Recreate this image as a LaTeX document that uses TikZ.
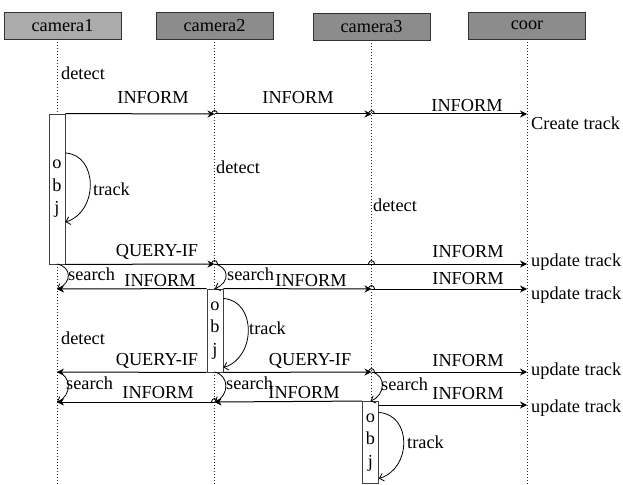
\documentclass[tikz,border=0pt]{standalone}
\usepackage{fontspec}
\setmainfont{Liberation Serif}
\usetikzlibrary{arrows.meta,calc}

\begin{document}
\begin{tikzpicture}[x=1pt, y=-1pt,
  font=\fontsize{18.3}{22.5}\selectfont,
  actor/.style={draw=black!80, line width=0.9pt, minimum width=117pt, minimum height=27pt, inner sep=0pt},
  life/.style={line width=1pt, dash pattern=on 1pt off 2pt, black!85},
  objbox/.style={draw=black!75, line width=0.9pt, fill=white, minimum width=16pt, inner sep=0pt, align=center},
  msg/.style={-{Stealth[length=7pt,width=7pt]}, line width=1pt},
  loopy/.style={-{Straight Barb[length=4pt,width=8pt]}, line width=0.8pt},
  hop/.style={line width=0.9pt},
  lbl/.style={inner sep=0pt},
  note/.style={inner sep=0pt, anchor=west},
]
\useasboundingbox (0,0) rectangle (623,484);

% ============ ACTORS ============
\node[actor, fill=black!33] (cam1) at (62.5,25.5) {camera1};
\node[actor, fill=black!45] (cam2) at (214.5,25.5) {camera2};
\node[actor, fill=black!45] (cam3) at (371.5,26.5) {camera3};
\node[actor, fill=black!45] (coor) at (527,25.5) {coor};

% lifeline tops, bottom and message rows
\coordinate (l1) at (57,39);
\coordinate (l2) at (cam2.south);
\coordinate (l3) at (cam3.south);
\coordinate (lc) at (coor.south);
\coordinate (bot) at (0,484);
\coordinate (r1) at (0,114);
\coordinate (r2) at (0,264);
\coordinate (r3) at (0,289);
\coordinate (r4) at (0,372);
\coordinate (r5) at (0,402);
\coordinate (r5b) at (0,405);

\draw[life] (l1) -- (l1 |- bot);
\draw[life] (l2) -- (l2 |- bot);
\draw[life] (l3) -- (l3 |- bot);
\draw[life] (lc) -- (lc |- bot);

% ============ ACTIVATIONS ============
\node[objbox, minimum height=150pt] (obj1) at (57,189) {o\\b\\j};
\node[objbox, minimum height=83pt] (obj2) at (215,330.5) {o\\b\\j};
\node[objbox, minimum height=82pt] (obj3) at (370.5,442.5) {o\\b\\j};

\node[note] (det1) at (61,73) {detect};
\node[note] (det2) at (216,167) {detect};
\node[note] (det3) at (373,205) {detect};
\node[note] (det4) at (61,338) {detect};

% ---- row 1: camera1 informs everybody ----
\draw[msg] (obj1.north east) -- (l2 |- r1);
\draw[msg] (l2 |- r1) -- (l3 |- r1);
\draw[msg] (l3 |- r1) -- (lc |- r1);
\node[lbl] (inf11) at (153,98) {INFORM};
\node[lbl] (inf12) at (298,98) {INFORM};
\node[lbl] (inf13) at (467,106) {INFORM};
\node[note] (create) at (531,123) {Create track};

\draw[loopy] ($(obj1.east)+(0,-36)$) .. controls +(33,2) and +(33,-10) .. ($(obj1.east)+(0,33)$);
\node[note] (trk1) at (93,189) {track};

% ---- row 2: query from camera1 ----
\draw[msg] (obj1.south east) -- (l2 |- r2);
\draw[msg] (l2 |- r2) -- (lc |- r2);
\node[lbl] (qry1) at (157,252) {QUERY-IF};
\node[lbl] (inf21) at (468,252) {INFORM};
\node[note] (upd1) at (531,262) {update track};

\draw[loopy] (l1 |- r2) .. controls +(15,3) and +(15,-6) .. (l1 |- r3);
\node[note] (srch1) at (68,274) {search};
\draw[loopy] (l2 |- r2) .. controls +(15,3) and +(15,-6) .. (obj2.north);
\node[note] (srch2) at (227,274) {search};

% ---- row 3: camera2 replies ----
\draw[msg] (obj2.north west) -- (l1 |- r3);
\draw[msg] (obj2.north east) -- (l3 |- r3);
\draw[msg] (l3 |- r3) -- (lc |- r3);
\node[lbl] (inf31) at (160,281) {INFORM};
\node[lbl] (inf32) at (311,281) {INFORM};
\node[lbl] (inf33) at (468,279) {INFORM};
\node[note] (upd2) at (531,295) {update track};

\draw[loopy] ($(obj2.east)+(0,-32)$) .. controls +(33,2) and +(33,-10) .. ($(obj2.east)+(0,37)$);
\node[note] (trk2) at (249,328) {track};

% ---- row 4: query from camera2 ----
\draw[msg] (obj2.south west) -- (l1 |- r4);
\draw[msg] (obj2.south east) -- (l3 |- r4);
\draw[msg] (l3 |- r4) -- (lc |- r4);
\node[lbl] (qry2) at (157,361) {QUERY-IF};
\node[lbl] (qry3) at (310,361) {QUERY-IF};
\node[lbl] (inf41) at (468,361) {INFORM};
\node[note] (upd3) at (531,371) {update track};

\draw[loopy] (l1 |- r4) .. controls +(15,3) and +(15,-6) .. (l1 |- r5);
\node[note] (srch3) at (66,383) {search};
\draw[loopy] (l2 |- r4) .. controls +(15,3) and +(15,-6) .. (l2 |- r5);
\node[note] (srch4) at (226,383) {search};
\draw[loopy] (l3 |- r4) .. controls +(15,3) and +(15,-6) .. (obj3.north);
\node[note] (srch5) at (381,384) {search};

% ---- row 5: replies to camera2 ----
\draw[msg] (l2 |- r5) -- (l1 |- r5);
\draw[msg] (obj3.north west) -- (l2 |- r5);
\draw[msg] (obj3.east |- r5b) -- (lc |- r5b);
\node[lbl] (inf51) at (158,393) {INFORM};
\node[lbl] (inf52) at (304,393) {INFORM};
\node[lbl] (inf53) at (468,394) {INFORM};
\node[note] (upd4) at (531,408) {update track};

\draw[loopy] ($(obj3.east)+(0,-30)$) .. controls +(33,2) and +(33,-10) .. ($(obj3.east)+(0,36)$);
\node[note] (trk3) at (407,442) {track};

% little hops where a message crosses a lifeline
\foreach \p in {l2|-r1, l3|-r1, l2|-r2, l3|-r2, l3|-r3, l3|-r4, l2|-r5}
  \draw[hop] ($(\p)+(-3,0)$) .. controls +(0,-4.5) and +(0,-4.5) .. ($(\p)+(3,0)$);

\end{tikzpicture}
\end{document}
